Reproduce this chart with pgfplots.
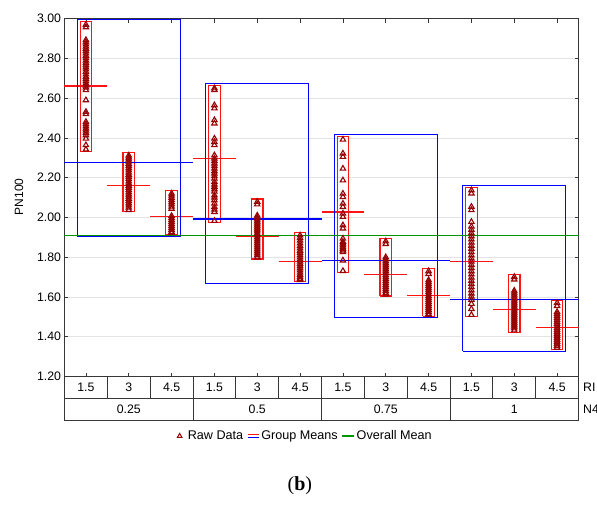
\documentclass[border=0pt]{standalone}
\usepackage{fontspec}
\setmainfont{Liberation Sans}
\newfontfamily\capfont{Liberation Serif}
\usepackage{pgfplots}
\pgfplotsset{compat=1.18}
\definecolor{ptred}{RGB}{150,0,0}
\definecolor{cellred}{RGB}{255,20,20}
\definecolor{grpblue}{RGB}{0,0,255}
\definecolor{allgreen}{RGB}{0,150,0}
\definecolor{gridgray}{RGB}{228,228,228}
\definecolor{axisgray}{RGB}{55,55,55}
\newcommand{\cellbox}[5]{\addplot[color=#1, line width=1.2pt, line join=miter, forget plot] coordinates {(#2,#4) (#3,#4) (#3,#5) (#2,#5) (#2,#4)};}
\newcommand{\meanline}[4]{\addplot[color=#1, line width=1.3pt, forget plot] coordinates {(#2,#4) (#3,#4)};}
\newcommand{\pts}[1]{\addplot[only marks, mark=triangle, mark size=3.1pt, color=ptred, line width=1.1pt, forget plot] coordinates {#1};}
\begin{document}
\begin{tikzpicture}
\useasboundingbox (-64.5pt,-127.5pt) rectangle (532.5pt,376.5pt);
\clip (-64.5pt,-127.5pt) rectangle (532.5pt,376.5pt);
\begin{axis}[
  at={(0pt,0pt)}, anchor=south west,
  scale only axis, width=514pt, height=357.8pt,
  xmin=-0.5, xmax=11.5, ymin=1.2, ymax=3.0,
  clip=false,
  xtick={0,1,2,3,4,5,6,7,8,9,10,11},
  xticklabels={1.5,3,4.5,1.5,3,4.5,1.5,3,4.5,1.5,3,4.5},
  ytick={1.2,1.4,1.6,1.8,2.0,2.2,2.4,2.6,2.8,3.0},
  xtick pos=both, ytick pos=both,
  xticklabel pos=bottom, yticklabel pos=left,
  tick align=inside, major tick length=4pt,
  tick style={axisgray, line width=0.8pt},
  axis line style={axisgray, line width=1pt},
  ymajorgrids, grid style={gridgray, line width=0.9pt},
  tick label style={font=\fontsize{12.3}{14}\selectfont},
  xticklabel style={anchor=center, yshift=-10.9pt},
  yticklabel style={/pgf/number format/.cd, fixed, fixed zerofill, precision=2, assume math mode=true},
  ylabel={PN100},
  ylabel style={at={(axis description cs:-0.0885,0.502)}, anchor=center, rotate=0, font=\fontsize{12}{14}\selectfont},
  legend style={at={(axis description cs:0.468,-0.1663)}, anchor=center, draw=none, fill=none,
    legend columns=3, font=\fontsize{12.6}{14}\selectfont,
    /tikz/every even column/.append style={column sep=2pt}},
]
% cell ranges (red boxes)
\cellbox{cellred}{-0.135}{0.135}{2.333}{2.985}
\cellbox{cellred}{0.865}{1.135}{2.030}{2.327}
\cellbox{cellred}{1.865}{2.135}{1.914}{2.136}
\cellbox{cellred}{2.865}{3.135}{1.974}{2.665}
\cellbox{cellred}{3.865}{4.135}{1.791}{2.093}
\cellbox{cellred}{4.865}{5.135}{1.677}{1.924}
\cellbox{cellred}{5.865}{6.135}{1.722}{2.406}
\cellbox{cellred}{6.865}{7.135}{1.605}{1.894}
\cellbox{cellred}{7.865}{8.135}{1.502}{1.744}
\cellbox{cellred}{8.865}{9.135}{1.501}{2.151}
\cellbox{cellred}{9.865}{10.135}{1.423}{1.715}
\cellbox{cellred}{10.865}{11.135}{1.336}{1.583}
% cell means
\meanline{cellred}{-0.5}{0.5}{2.661}
\meanline{cellred}{0.5}{1.5}{2.161}
\meanline{cellred}{1.5}{2.5}{2.005}
\meanline{cellred}{2.5}{3.5}{2.295}
\meanline{cellred}{3.5}{4.5}{1.905}
\meanline{cellred}{4.5}{5.5}{1.778}
\meanline{cellred}{5.5}{6.5}{2.028}
\meanline{cellred}{6.5}{7.5}{1.712}
\meanline{cellred}{7.5}{8.5}{1.607}
\meanline{cellred}{8.5}{9.5}{1.779}
\meanline{cellred}{9.5}{10.5}{1.538}
\meanline{cellred}{10.5}{11.5}{1.445}
% group ranges (blue boxes)
\cellbox{grpblue}{-0.2}{2.2}{1.905}{2.997}
\cellbox{grpblue}{2.8}{5.2}{1.667}{2.675}
\cellbox{grpblue}{5.8}{8.2}{1.496}{2.418}
\cellbox{grpblue}{8.8}{11.2}{1.326}{2.161}
% group means
\meanline{grpblue}{-0.5}{2.5}{2.275}
\meanline{grpblue}{2.5}{5.5}{1.992}
\meanline{grpblue}{5.5}{8.5}{1.783}
\meanline{grpblue}{8.5}{11.5}{1.588}
% overall mean
\meanline{allgreen}{-0.5}{11.5}{1.911}
% raw data
\pts{(0,2.970) (0,2.957) (0,2.893) (0,2.882) (0,2.871) (0,2.860) (0,2.849) (0,2.838) (0,2.826) (0,2.814) (0,2.802) (0,2.790) (0,2.778) (0,2.767) (0,2.756) (0,2.745) (0,2.733) (0,2.720) (0,2.708) (0,2.697) (0,2.686) (0,2.675) (0,2.664) (0,2.654) (0,2.641) (0,2.590) (0,2.531) (0,2.520) (0,2.481) (0,2.470) (0,2.459) (0,2.448) (0,2.437) (0,2.426) (0,2.414) (0,2.397) (0,2.364) (0,2.342)}
\pts{(1,2.312) (1,2.302) (1,2.292) (1,2.281) (1,2.270) (1,2.259) (1,2.248) (1,2.237) (1,2.226) (1,2.215) (1,2.204) (1,2.193) (1,2.182) (1,2.171) (1,2.160) (1,2.149) (1,2.138) (1,2.127) (1,2.116) (1,2.105) (1,2.094) (1,2.083) (1,2.072) (1,2.061) (1,2.050) (1,2.038)}
\pts{(2,2.121) (2,2.110) (2,2.099) (2,2.088) (2,2.077) (2,2.066) (2,2.055) (2,2.044) (2,2.008) (2,1.998) (2,1.988) (2,1.978) (2,1.968) (2,1.958) (2,1.948) (2,1.938) (2,1.928) (2,1.922)}
\pts{(3,2.650) (3,2.641) (3,2.565) (3,2.549) (3,2.490) (3,2.473) (3,2.397) (3,2.380) (3,2.364) (3,2.313) (3,2.297) (3,2.284) (3,2.272) (3,2.259) (3,2.246) (3,2.233) (3,2.221) (3,2.208) (3,2.196) (3,2.179) (3,2.166) (3,2.154) (3,2.142) (3,2.130) (3,2.112) (3,2.100) (3,2.087) (3,2.070) (3,2.053) (3,2.040) (3,2.028) (3,1.983)}
\pts{(4,2.079) (4,2.066) (4,2.010) (4,2.000) (4,1.990) (4,1.980) (4,1.970) (4,1.960) (4,1.950) (4,1.940) (4,1.930) (4,1.920) (4,1.910) (4,1.900) (4,1.890) (4,1.880) (4,1.870) (4,1.860) (4,1.850) (4,1.840) (4,1.830) (4,1.820) (4,1.810) (4,1.799)}
\pts{(5,1.910) (5,1.897) (5,1.884) (5,1.870) (5,1.857) (5,1.845) (5,1.833) (5,1.822) (5,1.811) (5,1.800) (5,1.789) (5,1.778) (5,1.767) (5,1.756) (5,1.745) (5,1.734) (5,1.723) (5,1.712) (5,1.701) (5,1.692) (5,1.685)}
\pts{(6,2.392) (6,2.322) (6,2.305) (6,2.246) (6,2.187) (6,2.120) (6,2.103) (6,2.070) (6,2.053) (6,2.020) (6,2.003) (6,1.961) (6,1.945) (6,1.894) (6,1.878) (6,1.869) (6,1.860) (6,1.851) (6,1.843) (6,1.834) (6,1.826) (6,1.784) (6,1.731)}
\pts{(7,1.880) (7,1.867) (7,1.800) (7,1.790) (7,1.780) (7,1.770) (7,1.760) (7,1.750) (7,1.740) (7,1.730) (7,1.720) (7,1.710) (7,1.700) (7,1.690) (7,1.680) (7,1.670) (7,1.660) (7,1.650) (7,1.640) (7,1.630) (7,1.620) (7,1.613)}
\pts{(8,1.730) (8,1.716) (8,1.685) (8,1.675) (8,1.665) (8,1.655) (8,1.645) (8,1.635) (8,1.625) (8,1.615) (8,1.605) (8,1.595) (8,1.585) (8,1.575) (8,1.565) (8,1.555) (8,1.545) (8,1.535) (8,1.525) (8,1.515) (8,1.510)}
\pts{(9,2.137) (9,2.121) (9,2.054) (9,2.037) (9,1.978) (9,1.955) (9,1.938) (9,1.922) (9,1.906) (9,1.890) (9,1.874) (9,1.858) (9,1.842) (9,1.826) (9,1.810) (9,1.794) (9,1.778) (9,1.762) (9,1.746) (9,1.730) (9,1.714) (9,1.698) (9,1.682) (9,1.666) (9,1.650) (9,1.634) (9,1.618) (9,1.602) (9,1.586) (9,1.566) (9,1.540) (9,1.510)}
\pts{(10,1.701) (10,1.688) (10,1.632) (10,1.622) (10,1.612) (10,1.602) (10,1.592) (10,1.582) (10,1.572) (10,1.562) (10,1.552) (10,1.542) (10,1.532) (10,1.522) (10,1.512) (10,1.502) (10,1.492) (10,1.482) (10,1.472) (10,1.462) (10,1.452) (10,1.442) (10,1.432)}
\pts{(11,1.570) (11,1.555) (11,1.525) (11,1.515) (11,1.505) (11,1.495) (11,1.485) (11,1.475) (11,1.465) (11,1.455) (11,1.445) (11,1.435) (11,1.425) (11,1.415) (11,1.405) (11,1.395) (11,1.385) (11,1.375) (11,1.365) (11,1.355) (11,1.345)}
% legend
\addlegendimage{legend image code/.code={\path (0pt,0pt) (9pt,0pt); \draw[color=ptred, line width=1pt] plot[mark=triangle, mark size=2.6pt] coordinates {(3pt,0pt)};}}
\addlegendentry{Raw Data}
\addlegendimage{legend image code/.code={\draw[color=cellred,line width=1.1pt] (0pt,1.7pt)--(11pt,1.7pt); \draw[color=grpblue,line width=1.1pt] (0pt,-1.7pt)--(11pt,-1.7pt);}}
\addlegendentry{Group Means}
\addlegendimage{legend image code/.code={\draw[color=allgreen,line width=1.1pt] (0pt,0pt)--(12pt,0pt);}}
\addlegendentry{Overall Mean}
% category table below the axis
\pgfplotsinvokeforeach{-0.5,0.5,1.5,2.5,3.5,4.5,5.5,6.5,7.5,8.5,9.5,10.5,11.5}{\draw[axisgray, line width=0.9pt] (axis cs:#1,1.2) -- (axis cs:#1,1.0903);}
\pgfplotsinvokeforeach{-0.5,2.5,5.5,8.5,11.5}{\draw[axisgray, line width=0.9pt] (axis cs:#1,1.0903) -- (axis cs:#1,0.9812);}
\draw[axisgray, line width=0.9pt] (axis cs:-0.5,1.0903) -- (axis cs:11.5,1.0903);
\draw[axisgray, line width=0.9pt] (axis cs:-0.5,0.9812) -- (axis cs:11.5,0.9812);
\node[font=\fontsize{12.3}{14}\selectfont] at (axis cs:1,1.0358) {0.25};
\node[font=\fontsize{12.3}{14}\selectfont] at (axis cs:4,1.0358) {0.5};
\node[font=\fontsize{12.3}{14}\selectfont] at (axis cs:7,1.0358) {0.75};
\node[font=\fontsize{12.3}{14}\selectfont] at (axis cs:10,1.0358) {1};
\node[font=\fontsize{12.3}{14}\selectfont, anchor=west, inner sep=0pt] at (axis cs:11.606,1.1452) {RI};
\node[font=\fontsize{12.3}{14}\selectfont, anchor=west, inner sep=0pt] at (axis cs:11.606,1.0358) {N4};
\node[font=\capfont\fontsize{20}{23}\selectfont] at (axis description cs:0.458,-0.306) {(\textbf{b})};
\end{axis}
\end{tikzpicture}
\end{document}
